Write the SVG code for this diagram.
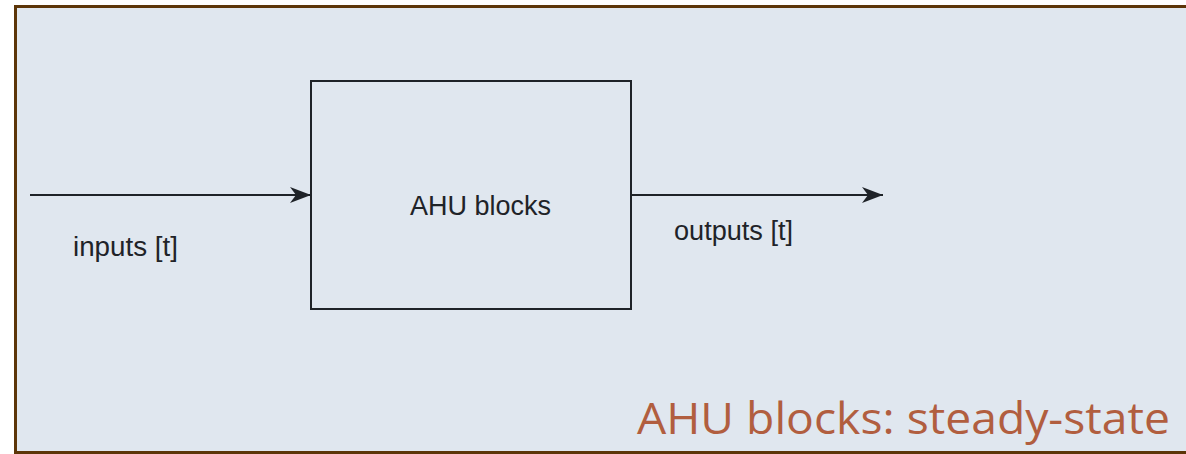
<svg xmlns="http://www.w3.org/2000/svg" width="1186" height="454" viewBox="0 0 1186 454">
<style>
.lbl{font-family:"Liberation Sans",Arial,sans-serif;fill:#1f2328;}
.conn{stroke:#1f2328;stroke-width:2;fill:none;}
.box{fill:none;stroke:#1f2328;stroke-width:2;}
.cap{font-family:"Open Sans","Noto Sans",sans-serif;fill:#B15E3F;font-size:43px;}
</style>
<defs>
<marker id="arr" markerUnits="userSpaceOnUse" markerWidth="22" markerHeight="18" refX="21" refY="9" orient="auto">
<path d="M0,1 L21,9 L0,17 L6,9 z" fill="#1f2328"/>
</marker>
</defs>
<rect x="0" y="0" width="1186" height="454" fill="#ffffff"/>
<rect x="15.5" y="6.5" width="1200" height="446" fill="#E0E7EF" stroke="#5C3508" stroke-width="3"/>
<g id="connectors">
<line class="conn" x1="30" y1="195" x2="311" y2="195" marker-end="url(#arr)"/>
<line class="conn" x1="631" y1="195" x2="883" y2="195" marker-end="url(#arr)"/>
</g>
<g id="ahu">
<rect class="box" x="311" y="81" width="320" height="228"/>
<text class="lbl" x="480.5" y="215" font-size="27" text-anchor="middle">AHU blocks</text>
</g>
<g id="inputs-label">
<text class="lbl" x="73" y="256" font-size="27" textLength="105" lengthAdjust="spacingAndGlyphs">inputs [t]</text>
</g>
<g id="outputs-label">
<text class="lbl" x="674" y="240" font-size="27" textLength="119" lengthAdjust="spacingAndGlyphs">outputs [t]</text>
</g>
<g id="caption">
<text class="cap" x="637" y="434" textLength="533" lengthAdjust="spacingAndGlyphs">AHU blocks: steady-state</text>
</g>
</svg>
